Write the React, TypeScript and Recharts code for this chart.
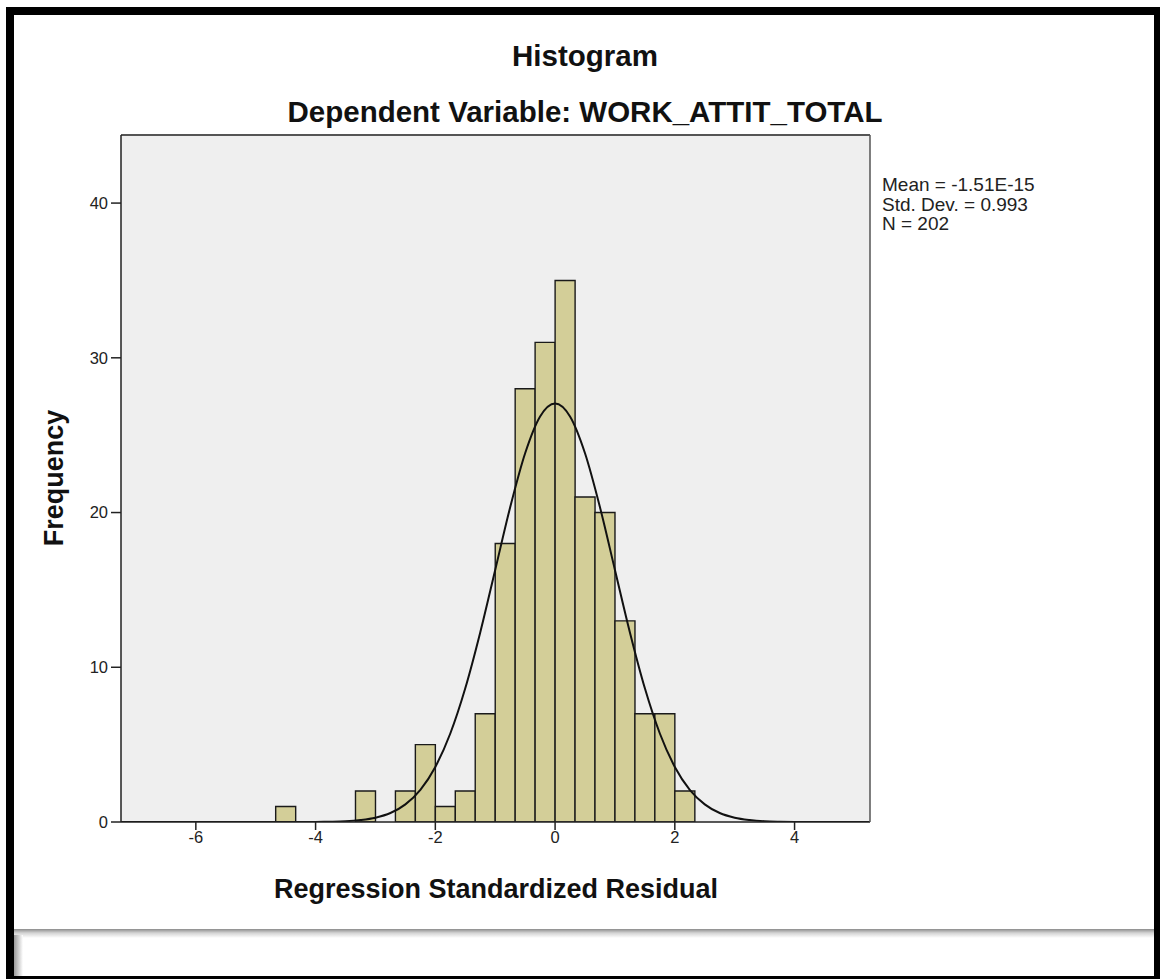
import React from "react";
import {
  ComposedChart, Bar, Line, XAxis, YAxis, CartesianGrid,
} from "recharts";

// histogram bins (centres, bin width 1/3) and counts
const BIN_CENTERS = [
  -4.5, -4.167, -3.833, -3.5, -3.167, -2.833, -2.5, -2.167, -1.833, -1.5, -1.167,
  -0.833, -0.5, -0.167, 0.167, 0.5, 0.833, 1.167, 1.5, 1.833, 2.167,
];
const FREQUENCIES = [1, 0, 0, 0, 2, 0, 2, 5, 1, 2, 7, 18, 28, 31, 35, 21, 20, 13, 7, 7, 2];

// fitted normal curve
const CURVE_X = [
  -7.25, -6, -5, -4.5, -4.25, -4, -3.75, -3.5, -3.25, -3, -2.75, -2.5, -2.25, -2, -1.75, -1.5,
  -1.25, -1, -0.75, -0.5, -0.25, 0, 0.25, 0.5, 0.75, 1, 1.25, 1.5, 1.75, 2, 2.25, 2.5, 2.75,
  3, 3.25, 3.5, 3.75, 4, 4.25, 4.5, 5, 5.26,
];
const CURVE_Y = [
  0, 0, 0, 0, 0.003, 0.008, 0.02, 0.05, 0.13, 0.28, 0.58, 1.14, 2.08, 3.56, 5.72, 8.64,
  12.25, 16.29, 20.34, 23.83, 26.21, 27.05, 26.21, 23.83, 20.34, 16.29, 12.25, 8.64, 5.72, 3.56, 2.08, 1.14, 0.58,
  0.28, 0.13, 0.05, 0.02, 0.008, 0.003, 0, 0, 0,
];

const X_TICKS = [-6, -4, -2, 0, 2, 4];
const Y_TICKS = [0, 10, 20, 30, 40];
const X_DOMAIN: [number, number] = [-7.25, 5.26];
const Y_DOMAIN: [number, number] = [0, 44.4];

const STATS = ["Mean = -1.51E-15", "Std. Dev. = 0.993", "N = 202"];

const FONT = "'Liberation Sans', Arial, Helvetica, sans-serif";

const titleStyle: React.CSSProperties = {
  position: "absolute",
  left: 585,
  transform: "translateX(-50%)",
  whiteSpace: "nowrap",
  fontSize: 29.5,
  lineHeight: "29.5px",
  fontWeight: 700,
  color: "#111",
};

export default function App() {
  const bins = BIN_CENTERS.map((x, i) => ({ x, freq: FREQUENCIES[i] }));
  const curve = CURVE_X.map((x, i) => ({ x, y: CURVE_Y[i] }));

  return (
    <div
      style={{
        position: "absolute",
        left: 0,
        top: 0,
        width: 1160,
        height: 979,
        background: "#ffffff",
        overflow: "hidden",
        fontFamily: FONT,
      }}
    >
      {/* screenshot frame */}
      <div
        style={{
          position: "absolute",
          left: 6,
          top: 7,
          width: 1154,
          height: 972,
          boxSizing: "border-box",
          borderLeft: "8px solid #000",
          borderTop: "8px solid #000",
          borderRight: "6px solid #000",
          borderBottom: "3px solid #000",
        }}
      />
      <div
        style={{
          position: "absolute",
          left: 14,
          top: 929,
          width: 1140,
          height: 47,
          overflow: "hidden",
          background: "linear-gradient(#8c8c8c 0px, #d4d4d4 4px, #ffffff 9px)",
        }}
      >
        <div
          style={{
            position: "absolute",
            left: 0,
            top: 6,
            width: 9,
            height: 41,
            background: "linear-gradient(to right, #9a9a9a, #ffffff)",
          }}
        />
      </div>

      <div style={{ position: "absolute", left: 0, top: 0 }}>
        <ComposedChart
          width={1160}
          height={979}
          data={bins}
          margin={{ top: 134, right: 289, bottom: 0, left: 0 }}
          barCategoryGap={0}
          barGap={0}
        >
          <CartesianGrid fill="#efefef" horizontal={false} vertical={false} xAxisId="bins" yAxisId="freq" />
          <XAxis
            xAxisId="bins"
            type="number"
            dataKey="x"
            domain={X_DOMAIN}
            ticks={X_TICKS}
            allowDataOverflow
            height={157}
            tickSize={8}
            tickMargin={1}
            axisLine={{ stroke: "#222", strokeWidth: 1.5 }}
            tickLine={{ stroke: "#222", strokeWidth: 1.5 }}
            tick={{ fill: "#222", fontSize: 16.5, fontFamily: FONT }}
          />
          <XAxis
            xAxisId="curve"
            type="number"
            dataKey="x"
            orientation="top"
            domain={X_DOMAIN}
            allowDataOverflow
            height={1}
            tick={false}
            tickLine={false}
            axisLine={{ stroke: "#555", strokeWidth: 1.8 }}
          />
          <YAxis
            yAxisId="freq"
            type="number"
            domain={Y_DOMAIN}
            ticks={Y_TICKS}
            allowDataOverflow
            width={121}
            tickSize={10}
            tickMargin={3}
            axisLine={{ stroke: "#222", strokeWidth: 1.5 }}
            tickLine={{ stroke: "#222", strokeWidth: 1.5 }}
            tick={{ fill: "#222", fontSize: 16.5, fontFamily: FONT }}
          />
          <YAxis
            yAxisId="edge"
            orientation="right"
            type="number"
            domain={Y_DOMAIN}
            allowDataOverflow
            width={1}
            tick={false}
            tickLine={false}
            axisLine={{ stroke: "#555", strokeWidth: 1.5 }}
          />
          <Bar
            xAxisId="bins"
            yAxisId="freq"
            dataKey="freq"
            fill="#d3ce98"
            stroke="#1a1a1a"
            strokeWidth={1.4}
            isAnimationActive={false}
          />
          <Line
            xAxisId="curve"
            yAxisId="freq"
            data={curve}
            dataKey="y"
            type="monotone"
            stroke="#111"
            strokeWidth={2}
            dot={false}
            activeDot={false}
            isAnimationActive={false}
          />
        </ComposedChart>
      </div>

      {/* titles */}
      <div style={{ ...titleStyle, top: 41 }}>Histogram</div>
      <div style={{ ...titleStyle, top: 97 }}>Dependent Variable: WORK_ATTIT_TOTAL</div>

      {/* axis titles */}
      <div
        style={{
          position: "absolute",
          left: 496,
          top: 876,
          transform: "translateX(-50%)",
          whiteSpace: "nowrap",
          fontSize: 27,
          lineHeight: "27px",
          fontWeight: 700,
          color: "#111",
        }}
      >
        Regression Standardized Residual
      </div>
      <div
        style={{
          position: "absolute",
          left: 54,
          top: 478,
          transform: "translate(-50%, -50%) rotate(-90deg)",
          whiteSpace: "nowrap",
          fontSize: 27,
          lineHeight: "27px",
          fontWeight: 700,
          color: "#111",
        }}
      >
        Frequency
      </div>

      {/* summary statistics */}
      <div
        style={{
          position: "absolute",
          left: 882,
          top: 175,
          fontSize: 19,
          lineHeight: "19.5px",
          color: "#222",
          whiteSpace: "nowrap",
        }}
      >
        {STATS.map((s) => (
          <div key={s}>{s}</div>
        ))}
      </div>
    </div>
  );
}
